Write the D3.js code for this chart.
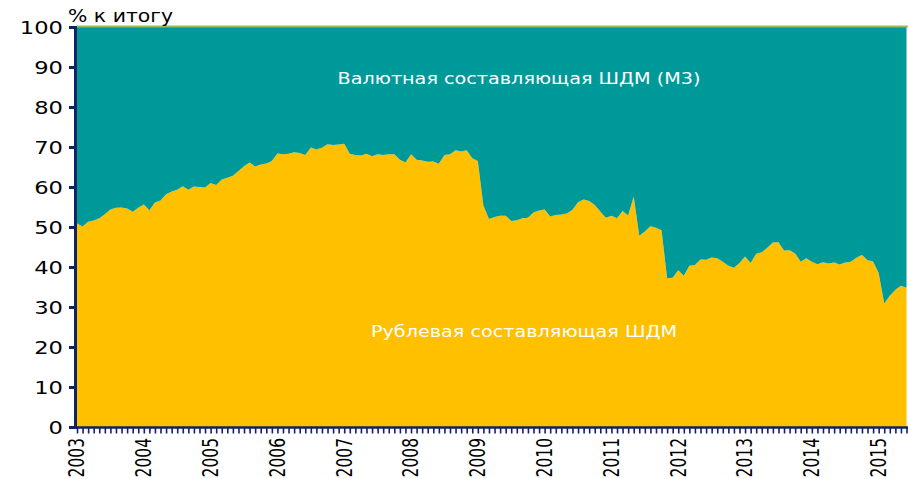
<!DOCTYPE html>
<html>
<head>
<meta charset="utf-8">
<script src="https://cdn.jsdelivr.net/npm/d3@7"></script>
<style>
  html, body { margin: 0; padding: 0; background: #ffffff; }
  svg { display: block; }
  text { font-family: "DejaVu Sans", Verdana, sans-serif; }
</style>
</head>
<body>
<svg id="chart" width="908" height="479"></svg>
<script>
// Monthly structure of the broad money supply, Jan 2003 – Jun 2015, % of total
const startYear = 2003;
const yearLabels = ["2003","2004","2005","2006","2007","2008","2009","2010","2011","2012","2013","2014","2015"];
const yTicks = [0, 10, 20, 30, 40, 50, 60, 70, 80, 90, 100];

// Ruble component share, % (one value per month)
const rubleShare = [
  50.9, 50.1, 51.3, 51.6, 52.2, 53.2, 54.4, 54.8, 54.9, 54.6, 53.8, 54.8,
  55.6, 54.2, 56.1, 56.6, 58.2, 58.9, 59.3, 60.2, 59.3, 60.1, 60.0, 59.9,
  61.0, 60.5, 61.9, 62.3, 62.8, 64.0, 65.2, 66.1, 65.1, 65.6, 65.9, 66.5,
  68.4, 68.2, 68.3, 68.7, 68.5, 68.0, 69.9, 69.4, 69.8, 70.7, 70.5, 70.6,
  70.8, 68.3, 68.0, 67.9, 68.3, 67.7, 68.2, 68.0, 68.2, 68.2, 66.8, 66.1,
  68.2, 66.8, 66.6, 66.3, 66.4, 65.8, 68.0, 68.2, 69.2, 68.9, 69.2, 67.2,
  66.5, 55.4, 52.0, 52.5, 52.8, 52.8, 51.5, 51.7, 52.2, 52.3, 53.6, 54.1,
  54.4, 52.6, 53.0, 53.1, 53.4, 54.3, 56.2, 56.9, 56.5, 55.5, 53.9, 52.3,
  52.8, 52.2, 54.0, 52.9, 57.6, 47.8, 48.9, 50.2, 49.8, 49.2, 37.2, 37.3,
  39.2, 37.8, 40.3, 40.5, 41.9, 41.8, 42.4, 42.2, 41.3, 40.3, 39.8, 41.0,
  42.6, 41.0, 43.3, 43.7, 44.8, 46.1, 46.2, 44.1, 44.2, 43.4, 41.3, 42.2,
  41.3, 40.7, 41.2, 40.9, 41.1, 40.6, 41.1, 41.3, 42.3, 43.0, 41.7, 41.4,
  38.5, 30.9, 32.8, 34.3, 35.3, 34.8
];
// Foreign currency component share, % (remainder of the total)
const currencyShare = rubleShare.map(v => +(100 - v).toFixed(1));

const seriesNames = ["Рублевая составляющая ШДМ", "Валютная составляющая ШДМ (М3)"];
const seriesColors = ["#FFC000", "#009999"];
const yTitle = "% к итогу";

const rows = rubleShare.map((v, i) => ({ i, ruble: v, currency: currencyShare[i] }));
const stacked = d3.stack().keys(["ruble", "currency"])(rows);

const svg = d3.select("#chart");
const SX = 1.33; // horizontal stretch of the axis lettering
const SXL = 1.28; // horizontal stretch of the series labels

const x = d3.scaleLinear().domain([0, rows.length - 1]).range([77, 906.5]);
const y = d3.scaleLinear().domain([0, 100]).range([427, 27]);

const area = d3.area()
  .x(d => x(d.data.i))
  .y0(d => y(d[0]))
  .y1(d => y(d[1]));

svg.append("g").selectAll("path")
  .data(stacked)
  .join("path")
  .attr("d", area)
  .attr("fill", (d, k) => seriesColors[k]);

// thin rule along the top of the stack
svg.append("line")
  .attr("x1", x(0)).attr("x2", 908)
  .attr("y1", y(100) - 0.5).attr("y2", y(100) - 0.5)
  .attr("stroke", "#9BBB59").attr("stroke-width", 2);

const navy = "#0B2466";

// Y axis
const yAxis = svg.append("g")
  .attr("transform", "translate(75,0)")
  .call(d3.axisLeft(y).tickValues(yTicks).tickSize(6).tickFormat(""));
yAxis.select(".domain").attr("stroke", navy).attr("stroke-width", 3);
yAxis.selectAll(".tick line").attr("stroke", navy).attr("stroke-width", 3);

svg.append("g").selectAll("text")
  .data(yTicks)
  .join("text")
  .attr("transform", d => `translate(63,${y(d) + 6.5}) scale(${SX},1)`)
  .attr("text-anchor", "end")
  .attr("font-size", 17)
  .attr("fill", "#000")
  .text(d => d);

// X axis with monthly ticks
const xAxis = svg.append("g")
  .attr("transform", "translate(0,427.5)")
  .call(d3.axisBottom(x).tickValues(d3.range(rows.length)).tickSize(6).tickSizeOuter(0).tickFormat(""));
xAxis.select(".domain").attr("stroke", navy).attr("stroke-width", 2.5)
  .attr("d", `M74,0H908`);
xAxis.selectAll(".tick line").attr("stroke", navy).attr("stroke-width", 1.6);

// Year labels at January of each year
svg.append("g").selectAll("text")
  .data(yearLabels)
  .join("text")
  .attr("transform", (d, k) => `translate(${x(k * 12)},438) scale(${SX},1) rotate(-90)`)
  .attr("text-anchor", "end")
  .attr("dy", "0.36em")
  .attr("font-size", 15.5)
  .attr("fill", "#000")
  .text(d => d);

// Axis title
svg.append("text")
  .attr("transform", `translate(68,21.5) scale(1.2,1)`)
  .attr("font-size", 17)
  .attr("fill", "#000")
  .text(yTitle);

// Series labels inside the areas
svg.append("text")
  .attr("transform", `translate(519,84) scale(${SXL},1)`)
  .attr("text-anchor", "middle")
  .attr("font-size", 15)
  .attr("fill", "#ffffff")
  .text(seriesNames[1]);

svg.append("text")
  .attr("transform", `translate(524,337) scale(${SXL},1)`)
  .attr("text-anchor", "middle")
  .attr("font-size", 15)
  .attr("fill", "#ffffff")
  .text(seriesNames[0]);
</script>
</body>
</html>
